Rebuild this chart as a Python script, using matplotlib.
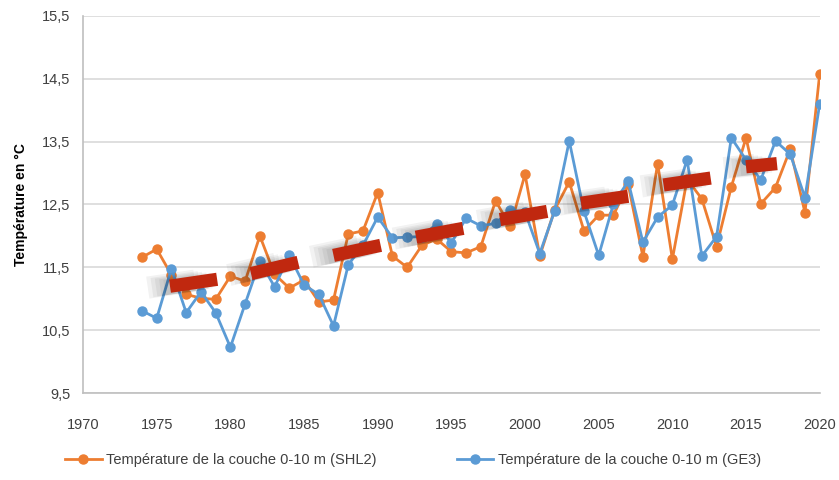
import matplotlib.pyplot as plt
import matplotlib.patheffects as pe

years = list(range(1974, 2021))

shl2 = [11.66, 11.79, 11.38, 11.07, 11.01, 10.99, 11.36, 11.28, 12.00, 11.39,
        11.17, 11.30, 10.95, 10.98, 12.03, 12.08, 12.69, 11.68, 11.50, 11.85,
        11.95, 11.75, 11.73, 11.83, 12.56, 12.15, 12.98, 11.68, 12.41, 12.86,
        12.08, 12.33, 12.33, 12.82, 11.67, 13.15, 11.63, 12.90, 12.59, 11.83,
        12.78, 13.56, 12.51, 12.77, 13.38, 12.37, 14.58]

ge3 = [10.81, 10.69, 11.48, 10.78, 11.11, 10.78, 10.23, 10.92, 11.60, 11.19,
       11.69, 11.22, 11.07, 10.57, 11.54, 11.85, 12.30, 11.97, 11.98, 11.99,
       12.19, 11.89, 12.28, 12.16, 12.20, 12.41, 12.38, 11.72, 12.39, 13.51,
       12.39, 11.69, 12.51, 12.87, 11.90, 12.30, 12.49, 13.21, 11.68, 11.99,
       13.56, 13.21, 12.89, 13.51, 13.30, 12.61, 14.10]

# trend bars: (start year, end year, start value, end value)
trend_x0 = [1975.9, 1981.4, 1987.0, 1992.6, 1998.3, 2003.8, 2009.4, 2015.0]
trend_x1 = [1979.1, 1984.6, 1990.2, 1995.8, 2001.5, 2007.0, 2012.6, 2017.1]
trend_y0 = [11.20, 11.40, 11.69, 11.98, 12.26, 12.52, 12.81, 13.10]
trend_y1 = [11.31, 11.58, 11.85, 12.12, 12.39, 12.63, 12.92, 13.15]

yticks = [9.5, 10.5, 11.5, 12.5, 13.5, 14.5, 15.5]
ytick_labels = ["9,5", "10,5", "11,5", "12,5", "13,5", "14,5", "15,5"]
xticks = list(range(1970, 2021, 5))

plt.rcParams['font.family'] = ['Liberation Sans', 'DejaVu Sans']

fig = plt.figure(figsize=(8.39, 4.8), dpi=100)
ax = fig.add_axes([0.099, 0.181, 0.878, 0.786])

ax.plot(years, shl2, color="#ED7D31", lw=2.0, marker="o", ms=6.5,
        label="Température de la couche 0-10 m (SHL2)", zorder=3)
ax.plot(years, ge3, color="#5B9BD5", lw=2.0, marker="o", ms=6.5,
        label="Température de la couche 0-10 m (GE3)", zorder=4)

# soft shadow to the left of each bar
shadow = []
for off, w in [(-16, 16), (-13, 14), (-10, 13), (-7, 12), (-4, 11)]:
    shadow.append(pe.SimpleLineShadow(offset=(off, -1), shadow_color="black",
                                      alpha=0.05, linewidth=w))
shadow.append(pe.Normal())

for x0, x1, y0, y1 in zip(trend_x0, trend_x1, trend_y0, trend_y1):
    ax.plot([x0, x1], [y0, y1], color="#C0280F", lw=9.5, solid_capstyle="butt",
            zorder=5, path_effects=shadow)

ax.set_xlim(1970, 2020)
ax.set_ylim(9.5, 15.5)
ax.set_xticks(xticks)
ax.set_yticks(yticks)
ax.set_yticklabels(ytick_labels)
ax.tick_params(axis="both", length=0, labelsize=10.5, colors="#404040")
ax.tick_params(axis="x", pad=18)
ax.tick_params(axis="y", pad=9)
ax.grid(axis="y", color="#D9D9D9", lw=1.2)
ax.set_axisbelow(True)
for s in ["top", "right"]:
    ax.spines[s].set_visible(False)
for s in ["left", "bottom"]:
    ax.spines[s].set_color("#BFBFBF")
    ax.spines[s].set_linewidth(1.2)

ax.set_ylabel("Température en °C", fontsize=10, fontweight="bold", labelpad=10)

fig.legend(loc="lower left", bbox_to_anchor=(0.062, 0.0), ncol=2, frameon=False,
           fontsize=10.5, columnspacing=5.5, handlelength=2.5, handletextpad=0.3,
           labelcolor="#404040")

fig.savefig("out.png", dpi=100)
